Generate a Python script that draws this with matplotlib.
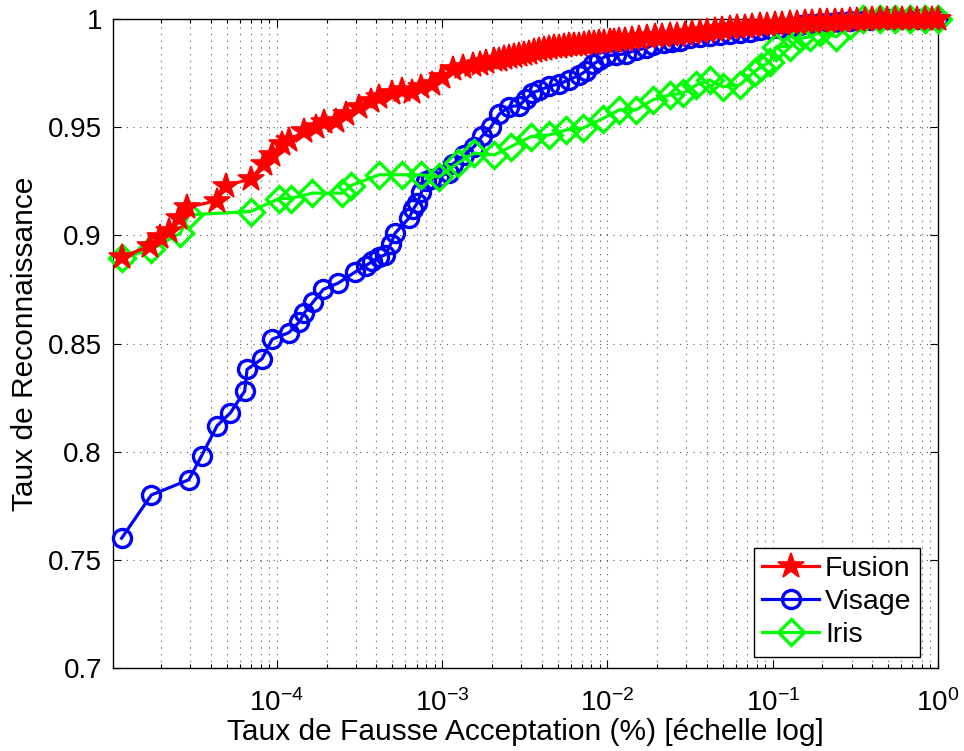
import matplotlib
matplotlib.use("Agg")
import matplotlib.pyplot as plt
from matplotlib.ticker import LogLocator, NullFormatter, FixedLocator

plt.rcParams['font.family'] = ['Liberation Sans', 'DejaVu Sans']
plt.rcParams['mathtext.fontset'] = 'custom'
plt.rcParams['mathtext.rm'] = 'Liberation Sans'
plt.rcParams['mathtext.it'] = 'Liberation Sans'

# ---- data ----
fusion_far = [1.15e-5, 1.71e-5, 1.97e-5, 2.21e-5, 2.55e-5, 2.86e-5, 4.35e-5, 4.89e-5,
              6.93e-5, 8.34e-5, 9.38e-5, 1.08e-4, 1.18e-4, 1.46e-4, 1.72e-4, 1.93e-4,
              2.27e-4, 2.61e-4, 3.14e-4, 3.70e-4, 4.15e-4, 5.00e-4, 5.74e-4, 6.61e-4,
              7.41e-4, 8.71e-4, 1.0e-3, 1.16e-3, 1.33e-3, 1.53e-3, 1.70e-3, 1.84e-3,
              2.07e-3, 2.22e-3, 2.38e-3, 2.55e-3, 2.73e-3, 2.93e-3, 3.14e-3, 3.37e-3,
              3.61e-3, 3.87e-3, 4.15e-3, 4.45e-3, 4.78e-3, 5.12e-3, 5.48e-3, 5.88e-3,
              6.31e-3, 6.76e-3, 7.26e-3, 7.78e-3, 8.34e-3, 8.95e-3, 9.59e-3, 0.0103,
              0.0110, 0.0118, 0.0127, 0.0140, 0.0156, 0.0173, 0.0193, 0.0214, 0.0238,
              0.0264, 0.0293, 0.0325, 0.0361, 0.0401, 0.0445, 0.0494, 0.0548, 0.0609,
              0.0676, 0.0750, 0.0834, 0.0926, 0.103, 0.114, 0.127, 0.141, 0.156,
              0.174, 0.193, 0.214, 0.238, 0.264, 0.293, 0.325, 0.361, 0.401, 0.445,
              0.494, 0.548, 0.609, 0.676, 0.750, 0.834, 0.926, 1.0]
fusion_rate = [0.890, 0.895, 0.899, 0.902, 0.908, 0.913, 0.916, 0.923,
               0.926, 0.933, 0.937, 0.942, 0.944, 0.948, 0.950, 0.9525,
               0.953, 0.956, 0.9595, 0.962, 0.964, 0.9657, 0.967, 0.9664,
               0.9687, 0.970, 0.973, 0.977, 0.978, 0.9787, 0.979, 0.980,
               0.981, 0.9812, 0.982, 0.9825, 0.983, 0.9832, 0.984, 0.9845,
               0.985, 0.9855, 0.986, 0.9865, 0.987, 0.9872, 0.9875, 0.9878,
               0.988, 0.9882, 0.9885, 0.9888, 0.989, 0.9892, 0.9895, 0.9898,
               0.990, 0.9902, 0.9905, 0.9908, 0.991, 0.9915, 0.992, 0.9922, 0.9925,
               0.9928, 0.993, 0.9935, 0.994, 0.9945, 0.995, 0.9955, 0.996, 0.9962,
               0.9965, 0.9968, 0.997, 0.9972, 0.9975, 0.9978, 0.998, 0.9982, 0.9985,
               0.9988, 0.999, 0.999, 0.999, 0.9992, 0.9995, 0.9995, 0.9995, 0.9998, 1.0,
               1.0, 1.0, 1.0, 1.0, 1.0, 1.0, 1.0, 1.0]

visage_far = [1.15e-5, 1.74e-5, 2.93e-5, 3.50e-5, 4.35e-5, 5.24e-5, 6.39e-5, 6.6e-5,
              8.15e-5, 9.38e-5, 1.18e-4, 1.37e-4, 1.46e-4, 1.65e-4, 1.91e-4, 2.36e-4,
              2.97e-4, 3.45e-4, 3.78e-4, 4.15e-4, 4.52e-4, 4.89e-4, 5.19e-4, 6.31e-4,
              6.67e-4, 7.08e-4, 7.5e-4, 7.94e-4, 8.53e-4, 9.59e-4, 1.10e-3, 1.16e-3,
              1.36e-3, 1.56e-3, 1.75e-3, 1.97e-3, 2.21e-3, 2.55e-3, 2.93e-3, 3.21e-3,
              3.52e-3, 3.87e-3, 4.45e-3, 5.12e-3, 5.88e-3, 6.76e-3, 7.43e-3, 8.15e-3,
              8.95e-3, 9.82e-3, 0.0113, 0.0130, 0.0149, 0.0172, 0.0188, 0.0221,
              0.0247, 0.0273, 0.0314, 0.0361, 0.0415, 0.0478, 0.0549, 0.0631, 0.0725,
              0.0834, 0.0958, 0.110, 0.127, 0.146, 0.168, 0.193, 0.222, 0.255,
              0.293, 0.337, 0.387, 0.445, 0.512, 0.589, 0.677, 0.778, 0.894, 1.0]
visage_rate = [0.760, 0.780, 0.787, 0.798, 0.812, 0.818, 0.828, 0.838,
               0.843, 0.852, 0.855, 0.860, 0.864, 0.869, 0.875, 0.878,
               0.883, 0.886, 0.888, 0.890, 0.891, 0.896, 0.901, 0.908,
               0.912, 0.915, 0.920, 0.925, 0.926, 0.927, 0.929, 0.933,
               0.937, 0.941, 0.946, 0.950, 0.956, 0.9595, 0.960, 0.963,
               0.966, 0.967, 0.969, 0.970, 0.972, 0.974, 0.976, 0.979,
               0.981, 0.983, 0.9834, 0.984, 0.9857, 0.9865, 0.988, 0.989,
               0.9895, 0.990, 0.991, 0.9915, 0.992, 0.9925, 0.993, 0.9935, 0.994,
               0.995, 0.9955, 0.996, 0.9965, 0.997, 0.9975, 0.998, 0.998, 0.9985,
               0.999, 0.999, 0.9995, 0.9995, 1.0, 1.0, 1.0, 1.0, 1.0, 1.0]

iris_far = [1.15e-5, 1.74e-5, 2.61e-5, 2.93e-5, 6.93e-5, 1.03e-4, 1.21e-4, 1.64e-4,
            2.49e-4, 2.80e-4, 4.15e-4, 5.74e-4, 7.41e-4, 9.59e-4, 1.24e-3, 1.56e-3,
            2.07e-3, 2.61e-3, 3.44e-3, 4.45e-3, 5.62e-3, 7.08e-3, 9.37e-3, 0.0118,
            0.0149, 0.0188, 0.0238, 0.0286, 0.0345, 0.0415, 0.0500, 0.0631, 0.0778,
            0.0853, 0.0959, 0.105, 0.127, 0.146, 0.168, 0.193, 0.243, 0.293, 0.351,
            0.445, 0.548, 0.676, 0.834, 1.0]
iris_rate = [0.8895, 0.8935, 0.901, 0.9095, 0.911, 0.917, 0.917, 0.9195,
             0.9195, 0.923, 0.928, 0.928, 0.928, 0.927, 0.9333, 0.938,
             0.9372, 0.941, 0.9456, 0.9464, 0.9487, 0.9495, 0.954, 0.958,
             0.958, 0.9626, 0.9649, 0.9657, 0.9695, 0.9718, 0.9687, 0.9695, 0.9757,
             0.978, 0.980, 0.9872, 0.9872, 0.991, 0.9918, 0.994, 0.9918, 0.9972, 1.0,
             1.0, 1.0, 1.0, 1.0, 1.0]

labels = ['Fusion', 'Visage', 'Iris']
x_ticks = [1e-4, 1e-3, 1e-2, 1e-1, 1e0]
x_ticklabels = [r'$10^{-4}$', r'$10^{-3}$', r'$10^{-2}$', r'$10^{-1}$', r'$10^{0}$']
y_ticks = [0.7, 0.75, 0.8, 0.85, 0.9, 0.95, 1.0]
y_ticklabels = ['0.7', '0.75', '0.8', '0.85', '0.9', '0.95', '1']

# ---- figure ----
fig = plt.figure(figsize=(9.64, 7.51), dpi=100)
ax = fig.add_axes([113/964, 1-668/751, (938-113)/964, (668-19)/751])

lw = 2.3
mew = 2.4
l_f, = ax.plot(fusion_far, fusion_rate, color='#ff0000', lw=lw, marker='*', ms=19,
               mew=1.2, mec='#ff0000', mfc='#ff0000', label=labels[0], zorder=4, clip_on=False)
l_v, = ax.plot(visage_far, visage_rate, color='#0000ff', lw=lw, marker='o', ms=13,
               mew=mew, mec='#0000ff', mfc='none', label=labels[1], zorder=2, clip_on=False)
l_i, = ax.plot(iris_far, iris_rate, color='#00ff00', lw=lw, marker='D', ms=13,
               mew=mew, mec='#00ff00', mfc='none', label=labels[2], zorder=3, clip_on=False)

ax.set_xscale('log')
ax.set_xlim(1.02e-5, 1.0)
ax.set_ylim(0.7, 1.0)

ax.xaxis.set_major_locator(FixedLocator(x_ticks))
ax.set_xticklabels(x_ticklabels)
ax.xaxis.set_minor_locator(LogLocator(base=10, subs=range(2, 10), numticks=20))
ax.xaxis.set_minor_formatter(NullFormatter())
ax.set_yticks(y_ticks)
ax.set_yticklabels(y_ticklabels)

ax.tick_params(axis='both', which='both', direction='in', top=True, right=True,
               labelsize=20, width=0.8)
ax.tick_params(axis='both', which='major', length=6)
ax.tick_params(axis='y', which='major', pad=8)
ax.tick_params(axis='x', which='major', pad=15)
ax.tick_params(axis='x', which='minor', length=3)

ax.grid(True, which='major', linestyle=(0, (1, 5)), color='#555555', linewidth=0.8)
ax.grid(True, which='minor', axis='x', linestyle=(0, (1, 5)), color='#555555', linewidth=0.8)
ax.set_axisbelow(True)
for s in ax.spines.values():
    s.set_linewidth(1.0)
    s.set_zorder(1)

ax.set_xlabel('Taux de Fausse Acceptation (%) [échelle log]', fontsize=21.5, labelpad=1)
ax.set_ylabel('Taux de Reconnaissance', fontsize=21.5, labelpad=6)

leg = ax.legend(handles=[l_f, l_v, l_i], loc='lower right',
                bbox_to_anchor=((920-113)/825, (668-657)/649), borderaxespad=0,
                fontsize=20.5, frameon=True, fancybox=False, edgecolor='black',
                framealpha=1, handlelength=2.0, handletextpad=0.2,
                labelspacing=0.25, borderpad=0.3)
leg.get_frame().set_linewidth(1.0)
leg.set_zorder(10)

fig.savefig('out.png', dpi=100)
